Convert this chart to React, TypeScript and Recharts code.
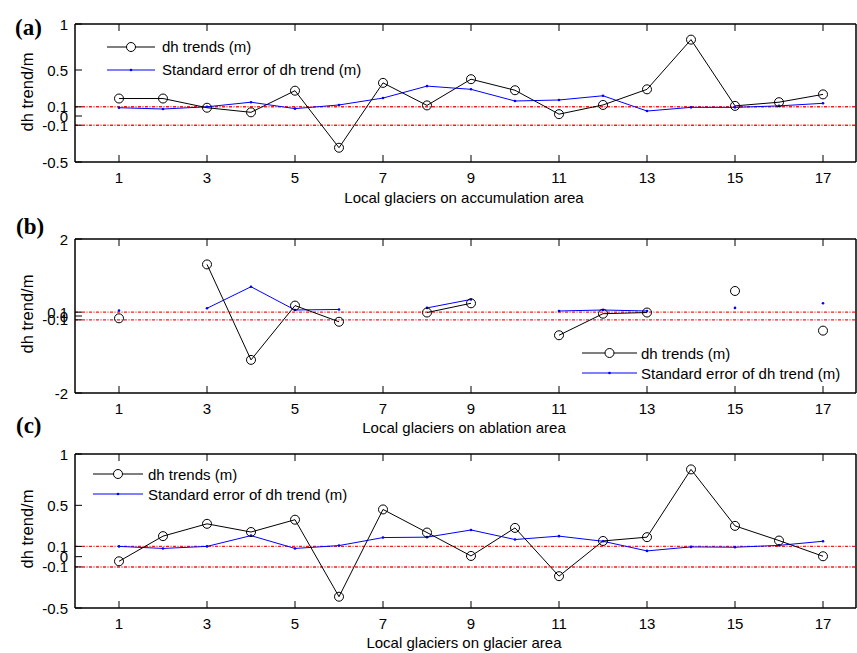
import { Legend, Line, LineChart, ReferenceLine, XAxis, YAxis } from "recharts";

const glaciers = [1, 2, 3, 4, 5, 6, 7, 8, 9, 10, 11, 12, 13, 14, 15, 16, 17];
const xTicks = [1, 3, 5, 7, 9, 11, 13, 15, 17];

// (a) accumulation area
const accDh = [0.19, 0.19, 0.09, 0.04, 0.275, -0.345, 0.36, 0.115, 0.4, 0.28, 0.02, 0.12, 0.29, 0.83, 0.11, 0.15, 0.235];
const accSe = [0.09, 0.076, 0.1, 0.15, 0.08, 0.12, 0.195, 0.325, 0.29, 0.163, 0.174, 0.22, 0.054, 0.094, 0.094, 0.11, 0.138];
const accTicks = [-0.5, -0.1, 0, 0.1, 0.5, 1];

// (b) ablation area (gaps = no data)
const ablDh = [-0.06, null, 1.34, -1.14, 0.27, -0.15, null, 0.09, 0.33, null, -0.5, 0.06, 0.09, null, 0.65, null, -0.38];
const ablSe = [0.14, null, 0.2, 0.76, 0.156, 0.17, null, 0.21, 0.43, null, 0.13, 0.156, 0.13, null, 0.21, null, 0.33];
const ablTicks = [-2, -0.1, 0, 0.1, 2];

// (c) whole glacier area
const allDh = [-0.045, 0.2, 0.32, 0.24, 0.36, -0.39, 0.46, 0.235, 0.007, 0.28, -0.19, 0.153, 0.19, 0.85, 0.3, 0.157, 0.004];
const allSe = [0.1, 0.08, 0.1, 0.205, 0.08, 0.108, 0.186, 0.19, 0.26, 0.167, 0.2, 0.15, 0.056, 0.095, 0.092, 0.11, 0.15];
const allTicks = [-0.5, -0.1, 0, 0.1, 0.5, 1];

const FONT = "'Liberation Sans', Arial, sans-serif";
const W = 857;
const PLOT_LEFT = 75;
const X_MAX = 17.75;
const BOX = { stroke: "#000", strokeWidth: 1.5 };

const toRows = (dh: (number | null)[], se: (number | null)[]) =>
  glaciers.map((g, i) => ({ x: g, dh: dh[i], se: se[i] }));

function XTick(props: any) {
  const { x, payload, top, bottom } = props;
  return (
    <g>
      <line x1={x} y1={bottom} x2={x} y2={bottom - 7} stroke="#000" />
      <line x1={x} y1={top} x2={x} y2={top + 7} stroke="#000" />
      <text x={x} y={bottom + 15} textAnchor="middle" dominantBaseline="central" fontFamily={FONT} fontSize={15} fill="#000">
        {payload.value}
      </text>
    </g>
  );
}

function YTick(props: any) {
  const { y, payload } = props;
  return (
    <g>
      <line x1={PLOT_LEFT} y1={y} x2={PLOT_LEFT + 7} y2={y} stroke="#000" />
      <text x={PLOT_LEFT - 7} y={y} textAnchor="end" dominantBaseline="central" fontFamily={FONT} fontSize={15} fill="#000">
        {String(payload.value)}
      </text>
    </g>
  );
}

function LegendBox({ lineLen, gap, rowH }: { lineLen: number; gap: number; rowH: number }) {
  const row = { display: "flex", alignItems: "center", height: rowH, whiteSpace: "nowrap" as const };
  return (
    <div style={{ fontFamily: FONT, fontSize: 15, color: "#000" }}>
      <div style={row}>
        <svg width={lineLen} height={12}>
          <line x1={0} y1={6} x2={lineLen} y2={6} stroke="#000" />
          <circle cx={lineLen / 2} cy={6} r={4.5} fill="#fff" stroke="#000" />
        </svg>
        <span style={{ marginLeft: gap }}>dh trends (m)</span>
      </div>
      <div style={row}>
        <svg width={lineLen} height={12}>
          <line x1={0} y1={6} x2={lineLen} y2={6} stroke="#0000ff" />
          <circle cx={lineLen / 2} cy={6} r={1.3} fill="#0000ff" />
        </svg>
        <span style={{ marginLeft: gap }}>Standard error of dh trend (m)</span>
      </div>
    </div>
  );
}

type PanelProps = {
  top: number;
  height: number;
  plotTop: number;
  plotH: number;
  domain: [number, number];
  yTicks: number[];
  dh: (number | null)[];
  se: (number | null)[];
  legend: { left: number; top: number; lineLen: number; gap: number; rowH: number };
};

function Panel({ top, height, plotTop, plotH, domain, yTicks, dh, se, legend }: PanelProps) {
  const bottom = plotTop + plotH;
  return (
    <div style={{ position: "absolute", left: 0, top, width: W, height }}>
      <LineChart width={W} height={height} data={toRows(dh, se)} margin={{ top: plotTop, right: W - PLOT_LEFT - 781, bottom: 0, left: 0 }}>
        <XAxis
          type="number"
          dataKey="x"
          domain={[0, X_MAX]}
          ticks={xTicks}
          interval={0}
          height={height - bottom}
          allowDataOverflow
          axisLine={BOX}
          tickLine={false}
          tick={(p: any) => <XTick {...p} top={plotTop} bottom={bottom} />}
        />
        <YAxis
          type="number"
          domain={domain}
          ticks={yTicks}
          interval={0}
          width={PLOT_LEFT}
          allowDataOverflow
          axisLine={BOX}
          tickLine={false}
          tick={(p: any) => <YTick {...p} />}
        />
        <ReferenceLine y={domain[1]} {...BOX} />
        <ReferenceLine x={X_MAX} {...BOX} />
        <ReferenceLine y={0.1} stroke="#ff1a1a" strokeWidth={1.4} strokeDasharray="3 1.5 1 1.5" />
        <ReferenceLine y={-0.1} stroke="#ff1a1a" strokeWidth={1.4} strokeDasharray="3 1.5 1 1.5" />
        <Line
          dataKey="se"
          stroke="#0000ff"
          strokeWidth={1}
          dot={{ r: 1.3, fill: "#0000ff", stroke: "none" }}
          activeDot={false}
          isAnimationActive={false}
        />
        <Line
          dataKey="dh"
          stroke="#000"
          strokeWidth={1}
          dot={{ r: 4.5, fill: "none", stroke: "#000", strokeWidth: 1 }}
          activeDot={false}
          isAnimationActive={false}
        />
        <Legend
          layout="horizontal"
          verticalAlign="middle"
          align="center"
          content={() => <LegendBox lineLen={legend.lineLen} gap={legend.gap} rowH={legend.rowH} />}
          wrapperStyle={{ position: "absolute", left: legend.left, top: legend.top, width: "auto", height: "auto" }}
        />
      </LineChart>
    </div>
  );
}

const letterStyle = {
  position: "absolute" as const,
  fontFamily: "'Liberation Serif', 'Times New Roman', serif",
  fontWeight: 700,
  fontSize: 23,
  lineHeight: "23px",
};
const yLabelStyle = {
  position: "absolute" as const,
  fontFamily: FONT,
  fontSize: 16.5,
  whiteSpace: "nowrap" as const,
  transform: "translate(-50%, -50%) rotate(-90deg)",
};
const xLabelStyle = {
  position: "absolute" as const,
  fontFamily: FONT,
  fontSize: 15,
  whiteSpace: "nowrap" as const,
  transform: "translate(-50%, -50%)",
};

export default function App() {
  return (
    <div style={{ position: "absolute", left: 0, top: 0, width: W, height: 653, background: "#fff", overflow: "hidden" }}>
      <Panel
        top={0}
        height={210}
        plotTop={24}
        plotH={138}
        domain={[-0.5, 1]}
        yTicks={accTicks}
        dh={accDh}
        se={accSe}
        legend={{ left: 107, top: 35, lineLen: 48, gap: 7, rowH: 23 }}
      />
      <Panel
        top={215}
        height={215}
        plotTop={24}
        plotH={154}
        domain={[-2, 2]}
        yTicks={ablTicks}
        dh={ablDh}
        se={ablSe}
        legend={{ left: 582, top: 128, lineLen: 55, gap: 4, rowH: 20 }}
      />
      <Panel
        top={430}
        height={223}
        plotTop={24}
        plotH={154}
        domain={[-0.5, 1]}
        yTicks={allTicks}
        dh={allDh}
        se={allSe}
        legend={{ left: 93, top: 34, lineLen: 50, gap: 5, rowH: 20 }}
      />

      <div style={{ ...letterStyle, left: 15, top: 16 }}>(a)</div>
      <div style={{ ...letterStyle, left: 16, top: 215 }}>(b)</div>
      <div style={{ ...letterStyle, left: 16, top: 414 }}>(c)</div>

      <div style={{ ...yLabelStyle, left: 27, top: 92 }}>dh trend/m</div>
      <div style={{ ...yLabelStyle, left: 27, top: 314 }}>dh trend/m</div>
      <div style={{ ...yLabelStyle, left: 27, top: 529 }}>dh trend/m</div>

      <div style={{ ...xLabelStyle, left: 464, top: 197 }}>Local glaciers on accumulation area</div>
      <div style={{ ...xLabelStyle, left: 464, top: 427 }}>Local glaciers on ablation area</div>
      <div style={{ ...xLabelStyle, left: 464, top: 642 }}>Local glaciers on glacier area</div>
    </div>
  );
}
